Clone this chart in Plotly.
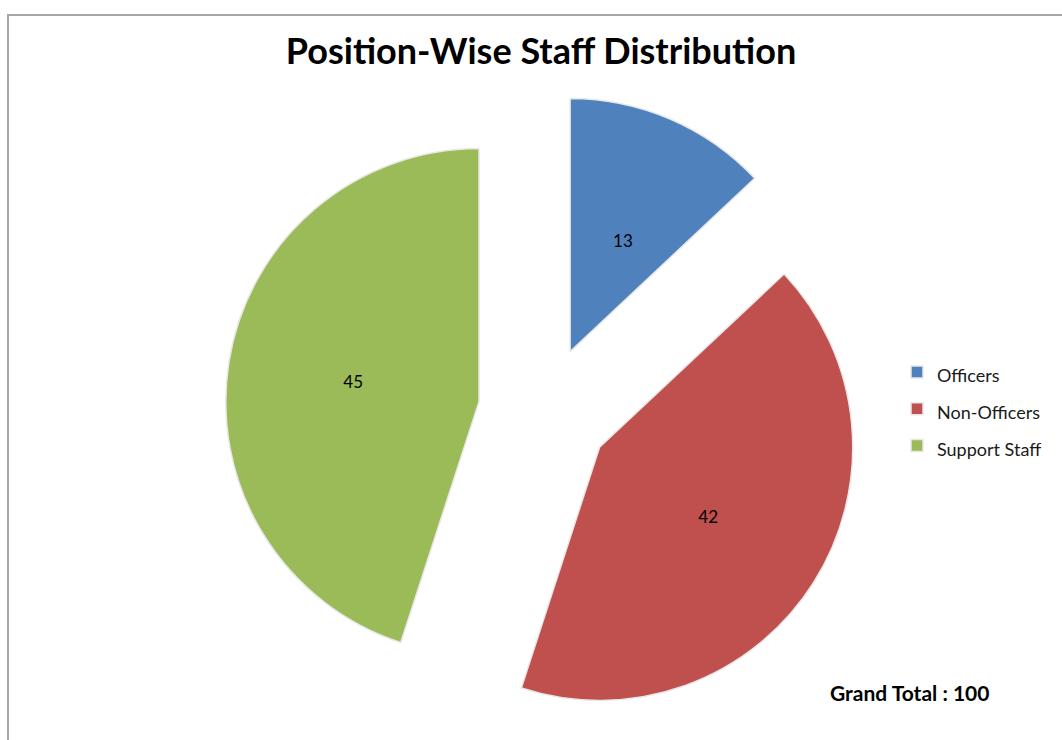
import plotly.graph_objects as go

categories = ["Officers", "Non-Officers", "Support Staff"]
values = [13, 42, 45]
colors = ["#4F81BD", "#C0504D", "#9BBB59"]
title_text = "Position-Wise Staff Distribution"
grand_total_text = "Grand Total : 100"

W, H = 1062, 740
cx, cy, half = 544, 412, 319

legend_labels = ["<span style='font-size:18px'>%s</span>" % c for c in categories]
# nudge the small slice's label toward the slice centre (as in the reference)
text_templates = ["\u00a0<br>" * 5 + "%{value}" + "\u2003\u2003\u2003", "%{value}", "%{value}"]

fig = go.Figure(go.Pie(
    labels=legend_labels,
    values=values,
    sort=False,
    direction="clockwise",
    rotation=0,
    pull=[0.26, 0.26, 0.26],
    marker=dict(colors=colors, line=dict(color="#E8E8E8", width=1.5)),
    texttemplate=text_templates,
    textposition="inside",
    insidetextorientation="horizontal",
    textfont=dict(family="Lato", size=17, color="#000000"),
    hoverinfo="skip",
    domain=dict(x=[(cx - half) / W, (cx + half) / W],
                y=[(H - cy - half) / H, (H - cy + half) / H]),
))

fig.update_layout(
    width=W, height=H,
    margin=dict(l=0, r=0, t=0, b=0),
    paper_bgcolor="white",
    plot_bgcolor="white",
    title=dict(text="<b>%s</b>" % title_text, x=541 / W, y=1 - 51 / H,
               xanchor="center", yanchor="middle",
               font=dict(family="Lato", size=36, color="#000000")),
    legend=dict(x=897 / W, y=1 - 409 / H, xanchor="left", yanchor="middle",
                font=dict(family="Lato", size=26, color="#1a1a1a"),
                bgcolor="rgba(0,0,0,0)", borderwidth=0),
    showlegend=True,
    annotations=[dict(text="<b>%s</b>" % grand_total_text, x=909 / W, y=1 - 692 / H,
                      xref="paper", yref="paper", showarrow=False,
                      xanchor="center", yanchor="middle",
                      font=dict(family="Lato", size=21, color="#000000"))],
    shapes=[dict(type="rect", xref="paper", yref="paper",
                 x0=8 / W, x1=1.02, y0=-0.02, y1=1 - 15 / H,
                 line=dict(color="#A6A6A6", width=2))],
)

fig.write_html("out.html", config={"displayModeBar": False},
               post_script="document.body.style.margin='0';document.body.style.overflow='hidden';")
